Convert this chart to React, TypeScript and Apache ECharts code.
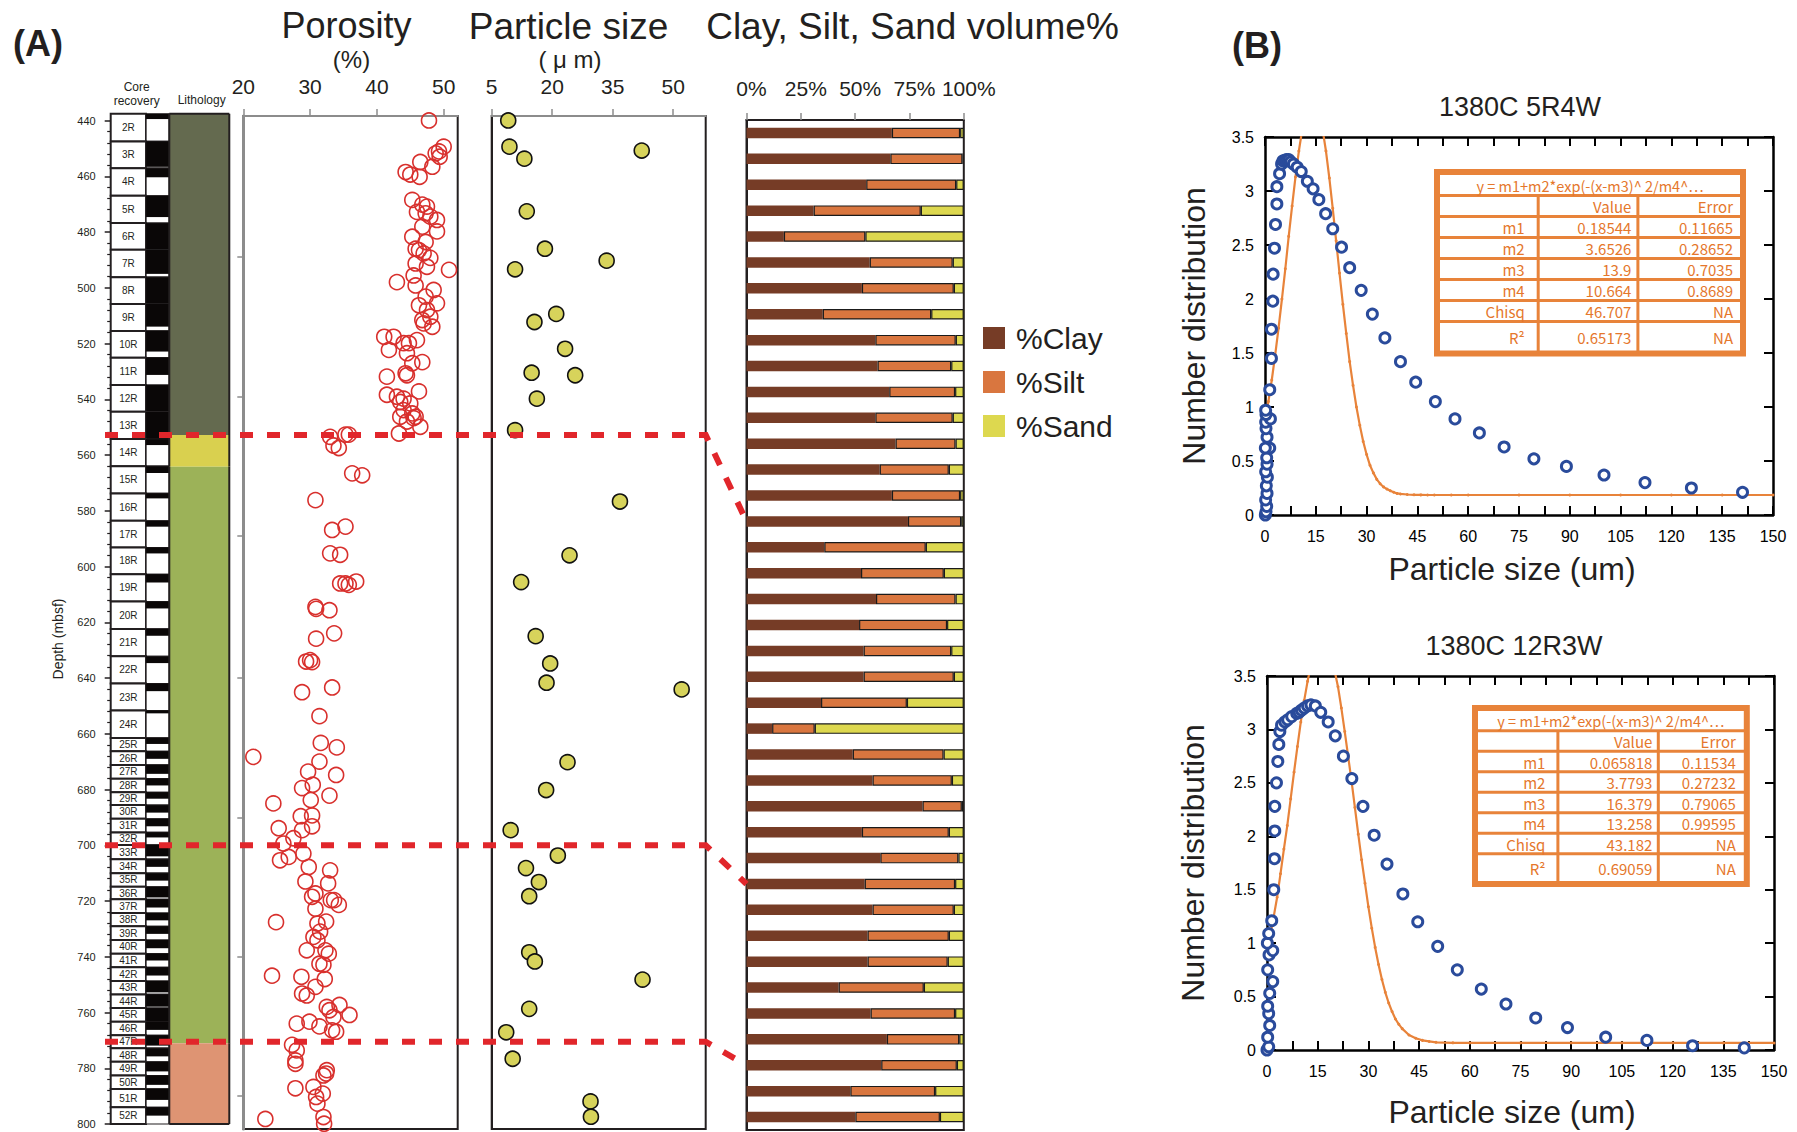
import React, { useEffect, useRef } from "react";
import * as echarts from "echarts";

const FONT = '"Liberation Sans", Arial, Helvetica, sans-serif';
const JPFONT = '"Noto Sans CJK JP", "Noto Sans", sans-serif';
const INK = "#231f20";
const RED = "#e1262b";
const ORANGE = "#e8833a";
const ORANGE_TXT = "#e5772c";
const BLUE = "#2a4b9b";

// ---------- Panel A: core column ----------
const coreNames = ["2R","3R","4R","5R","6R","7R","8R","9R","10R","11R","12R","13R","14R","15R","16R","17R","18R","19R","20R","21R","22R","23R","24R","25R","26R","27R","28R","29R","30R","31R","32R","33R","34R","35R","36R","37R","38R","39R","40R","41R","42R","43R","44R","45R","46R","47R","48R","49R","50R","51R","52R"];
const coreTops = [437.6,447.5,457.1,467.0,476.8,486.4,496.2,505.8,515.5,525.1,534.9,544.5,554.3,564.0,573.8,583.6,593.2,602.8,612.6,622.4,632.2,642.0,651.7,661.5,666.3,671.2,676.1,681.0,685.6,690.5,695.4,699.9,705.0,710.0,714.9,719.4,724.3,729.1,734.0,738.9,743.8,748.7,753.5,758.4,763.3,768.2,772.8,777.7,782.6,787.4,794.0];
const coreBase = 800;
const coreRecovery = [0.19,0.95,0.33,0.78,1.0,0.88,1.0,0.84,0.77,0.63,1.0,1.0,0.22,0.25,0.18,0.22,0.22,0.3,0.25,0.25,0.25,0.28,0.1,0.45,0.55,0.65,0.5,0.5,0.55,0.55,0.4,0.8,0.55,0.55,0.85,0.6,0.55,0.55,0.6,0.5,0.6,0.85,0.9,1.0,0.6,0.8,0.6,0.7,0.7,0.6,0.5];
const lithoTops = [437.6, 552.8, 564.2, 771.0];
const lithoBases = [552.8, 564.2, 771.0, 800];
const lithoColors = ["#646a4f", "#d9d04f", "#9cb258", "#de9473"];

// ---------- Panel A: porosity [% , depth mbsf] ----------
const porosityData = [
[47.8,440.0],[50.0,449.4],[49.3,451.1],[48.8,451.8],[49.4,453.0],[48.3,456.6],[46.5,454.9],[44.3,458.5],[45.0,459.4],[46.4,460.2],[45.3,468.5],[46.8,470.2],[47.5,470.9],[46.0,472.8],[47.3,473.3],[48.0,474.5],[49.0,475.7],[46.8,478.1],[45.3,481.7],[49.0,479.8],[47.3,483.6],[45.8,486.0],[46.3,486.5],[47.0,487.7],[48.0,489.3],[45.8,491.3],[47.5,492.5],[50.8,493.6],[45.5,495.6],[43.0,498.0],[45.8,499.2],[48.5,500.8],[47.3,503.2],[49.0,505.6],[46.3,506.3],[47.5,508.0],[48.0,510.4],[48.3,514.0],[47.0,512.8],[46.8,511.6],[41.1,517.6],[42.5,517.6],[41.8,522.3],[44.0,519.9],[44.8,519.9],[46.0,518.8],[44.5,523.5],[45.3,527.1],[46.8,526.7],[44.3,530.7],[44.5,531.4],[41.5,531.9],[41.5,538.4],[43.0,539.1],[44.0,539.8],[43.5,541.0],[45.0,541.5],[46.3,537.2],[44.0,543.9],[45.3,545.1],[45.8,546.3],[43.5,546.3],[44.5,548.0],[45.5,546.8],[46.5,549.9],[43.3,552.3],
[33.0,553.5],[33.5,556.6],[34.3,557.5],[35.3,552.7],[35.8,552.7],[36.3,566.6],[37.8,567.3],[30.8,576.2],[33.3,586.9],[35.3,585.7],[33.0,595.3],[34.5,595.8],[34.5,606.1],[35.3,606.1],[36.9,605.4],[35.8,606.6],[30.8,614.5],[30.9,615.2],[32.9,615.7],[30.9,625.9],[33.6,624.0],[29.4,634.1],[30.3,634.3],[30.0,633.6],[28.8,645.1],[33.3,643.4],[31.4,653.7],[31.6,663.3],[34.0,664.9],[21.5,668.3],[31.4,670.0],[29.7,673.6],[33.9,674.8],[28.8,679.5],[30.4,678.3],[32.9,682.2],[30.1,683.8],[24.5,685.0],[28.6,689.6],[30.3,689.3],[28.8,694.6],[30.3,693.2],[25.3,693.9],[27.5,697.5],[26.0,699.4],[26.8,704.2],[25.5,705.4],[29.0,703.0],[29.8,707.8],[33.0,709.0],[29.3,713.0],[32.7,713.7],[30.8,717.3],[30.3,718.5],[33.1,719.7],[34.3,721.4],[33.6,719.7],[24.9,727.6],[30.8,722.8],[31.1,728.1],[32.4,727.4],[31.5,731.0],[30.5,732.9],[31.1,734.1],[32.3,737.7],[32.8,738.9],[29.5,737.7],[31.4,742.5],[32.0,742.9],[24.3,746.8],[28.7,747.2],[32.2,748.0],[30.8,750.8],[28.8,753.2],[29.5,753.9],[34.4,757.3],[32.5,758.0],[32.9,759.2],[33.5,761.6],[35.9,760.9],[29.9,763.3],[28.0,764.0],[31.4,765.0],[33.3,766.4],[33.9,766.9],[27.3,771.6],[28.0,773.6],[27.8,777.2],[27.8,778.4],[32.5,780.7],[32.4,781.9],[32.0,782.6],[27.8,787.2],[30.5,786.7],[30.9,790.3],[31.1,792.7],[31.9,789.1],[23.3,798.2],[32.0,797.5],[32.1,799.9]
];

// ---------- Panel A: particle size [um, depth mbsf] ----------
const particleData = [
[9.1,440.0],[9.4,449.4],[13.1,453.7],[42.2,450.8],[13.7,472.6],[18.2,486.0],[33.5,490.3],[10.8,493.4],[21.0,509.4],[15.6,512.3],[23.2,521.9],[14.9,530.5],[25.7,531.4],[16.2,539.8],[10.8,551.1],[36.8,576.7],[24.3,596.0],[12.3,605.6],[15.9,625.0],[19.5,634.8],[18.6,641.7],[52.1,644.1],[23.8,670.2],[18.5,680.2],[9.7,694.6],[21.4,703.7],[13.5,708.2],[16.7,713.2],[14.3,718.3],[14.3,738.4],[15.7,741.7],[42.4,748.2],[14.3,758.7],[8.6,767.1],[10.2,776.6],[29.5,791.9],[29.6,797.4]
];

// ---------- Panel A: volume % ----------
const clayPct = [66.9,66.2,55.1,30.9,17.2,56.7,53.1,35.1,59.3,60.3,65.7,59.3,68.6,61.3,66.9,74.3,35.8,52.7,59.6,51.8,53.9,53.9,34.3,11.8,48.9,58.0,81.0,53.1,61.6,54.4,58.0,55.7,55.7,42.4,57.1,64.6,62.0,47.8,50.1];
const siltPct = [31.4,33.2,41.4,49.3,37.5,38.2,42.3,49.9,37.0,33.9,30.3,35.6,27.6,31.8,31.4,24.5,46.7,38.1,36.6,40.5,40.3,41.5,39.5,19.6,41.8,36.5,18.1,40.0,35.9,41.6,37.4,37.4,36.9,39.2,38.9,33.3,34.8,39.0,38.9];
const sandPct = [1.7,0.6,3.5,19.8,45.3,5.1,4.6,15.0,3.7,5.8,4.0,5.1,3.8,6.9,1.7,1.2,17.5,9.2,3.8,7.7,5.8,4.6,26.2,68.6,9.3,5.5,0.9,6.9,2.5,4.0,4.6,6.9,7.4,18.4,4.0,2.1,3.2,13.2,11.0];

const porosityTicks = [20, 30, 40, 50];
const particleTicks = [5, 20, 35, 50];
const volumeTicks = [0, 25, 50, 75, 100];
const porosityDepthTicks = [489, 539, 589, 640, 690, 740, 790];

// unit boundaries: depth -> sample bar index
const unitBreakDepths = [552.8, 700, 770.5];
const unitBreakSamples = [15, 29, 36];

// ---------- Panel B ----------
const blue5R4W = [
[0.1,0.0],[0.3,0.03],[0.5,0.08],[0.2,0.14],[0.6,0.2],[0.4,0.27],[0.7,0.35],[0.2,0.4],[0.6,0.47],[0.5,0.53],[1.4,0.62],[0.1,0.62],[0.6,0.72],[0.3,0.8],[0.2,0.86],[1.6,0.89],[0.3,0.93],[0.2,0.97],
[1.4,1.16],[1.9,1.45],[1.9,1.72],[2.3,1.98],[2.4,2.23],[2.8,2.47],[3.1,2.69],[3.5,2.88],[3.5,3.04],[4.3,3.16],[4.9,3.25],[5.3,3.28],[5.7,3.28],[6.3,3.29],[7.0,3.29],[7.6,3.27],[8.4,3.25],[9.5,3.22],[10.7,3.18],[12.5,3.09],[14.2,3.02],[15.9,2.92],[17.9,2.79],[20.0,2.65],[22.6,2.48],[25.0,2.29],[28.4,2.08],[31.7,1.86],[35.4,1.64],[40.0,1.42],[44.5,1.23],[50.3,1.05],[56.1,0.89],[63.3,0.76],[70.6,0.63],[79.4,0.52],[89.0,0.45],[100.1,0.37],[112.2,0.30],[125.9,0.25],[141.0,0.21]
];
const blue12R3W = [
[0.0,0.0],[0.5,0.03],[0.2,0.12],[0.8,0.23],[0.5,0.34],[0.2,0.41],[0.8,0.53],[1.7,0.64],[0.2,0.75],[0.6,0.89],[1.7,0.93],[0.1,1.0],[0.5,1.09],
[1.4,1.21],[2.0,1.50],[2.2,1.79],[2.3,2.05],[2.3,2.28],[2.8,2.50],[3.2,2.70],[3.5,2.86],[3.8,2.98],[4.3,3.04],[5.3,3.07],[6.1,3.09],[7.3,3.12],[8.8,3.15],[9.5,3.16],[10.2,3.18],[11.0,3.2],[12.0,3.22],[13.0,3.23],[14.3,3.22],[15.9,3.16],[18.1,3.07],[20.2,2.94],[22.6,2.75],[25.1,2.54],[28.4,2.28],[31.7,2.01],[35.5,1.74],[40.2,1.46],[44.6,1.20],[50.5,0.97],[56.3,0.75],[63.4,0.57],[70.7,0.43],[79.5,0.30],[88.9,0.21],[100.2,0.12],[112.4,0.09],[125.9,0.04],[141.2,0.02]
];
const fitX = [0,1,2,3,4,5,6,7,8,9,10,11,12,13,14,15,16,17,18,19,20,21,22,23,24,25,26,27,28,29,30,31,32,33,34,35,36,37,38,39,40,42,44,46,48,50,55,60,75,90,105,120,135,150];
const fit5R4W = [0.88,1.05,1.25,1.48,1.73,2.0,2.28,2.58,2.86,3.13,3.37,3.57,3.72,3.81,3.84,3.81,3.72,3.57,3.37,3.12,2.84,2.54,2.24,1.95,1.68,1.42,1.2,1.0,0.83,0.68,0.56,0.46,0.39,0.33,0.29,0.26,0.24,0.225,0.21,0.2,0.195,0.19,0.187,0.186,0.185,0.185,0.185,0.185,0.185,0.185,0.185,0.185,0.185,0.185];
const fit12R3W = [0.9,1.08,1.25,1.43,1.65,1.88,2.1,2.35,2.6,2.84,3.07,3.27,3.45,3.6,3.73,3.8,3.84,3.83,3.78,3.68,3.55,3.4,3.2,2.98,2.75,2.52,2.27,2.02,1.78,1.56,1.34,1.14,0.96,0.8,0.66,0.54,0.44,0.36,0.29,0.24,0.2,0.14,0.11,0.09,0.08,0.072,0.067,0.066,0.066,0.066,0.066,0.066,0.066,0.066];

const fitTitle = "y = m1+m2*exp(-(x-m3)^ 2/m4^…";
const fitHeader = ["", "Value", "Error"];
const fitRows5R4W = [["m1","0.18544","0.11665"],["m2","3.6526","0.28652"],["m3","13.9","0.7035"],["m4","10.664","0.8689"],["Chisq","46.707","NA"],["R²","0.65173","NA"]];
const fitRows12R3W = [["m1","0.065818","0.11534"],["m2","3.7793","0.27232"],["m3","16.379","0.79065"],["m4","13.258","0.99595"],["Chisq","43.182","NA"],["R²","0.69059","NA"]];

// ---------- helpers ----------
function label(id: string, x: number, y: number, text: string, size: number, opt: any = {}) {
  const align = opt.align || "center";
  return {
    id, type: "text", x, y, rotation: opt.rotation || 0, z: 50, silent: true,
    style: {
      text, fill: opt.color || INK, fontSize: size, fontFamily: opt.family || FONT,
      fontWeight: opt.weight || "normal",
      align, textAlign: align, verticalAlign: "middle", textVerticalAlign: "middle",
    },
  };
}

function fitTable(prefix: string, x: number, y: number, colW: number[], titleH: number, rowH: number, lastH: number, pads: number[], rows: string[][]) {
  const B = 6, G = 3;
  const innerW = colW.reduce((a, b) => a + b, 0) + G * (colW.length - 1);
  const all = [fitHeader, ...rows];
  const totalH = B + titleH + G + (all.length - 1) * (rowH + G) + lastH + B;
  const els: any[] = [];
  els.push({ id: prefix + "bg", type: "rect", z: 40, silent: true, shape: { x, y, width: innerW + 2 * B, height: totalH }, style: { fill: ORANGE } });
  els.push({ id: prefix + "tt", type: "rect", z: 41, silent: true, shape: { x: x + B, y: y + B, width: innerW, height: titleH }, style: { fill: "#fff" } });
  els.push(label(prefix + "ttx", x + B + innerW / 2, y + B + titleH / 2 + 0.5, fitTitle, 14.5, { color: ORANGE_TXT, family: JPFONT }));
  let cy = y + B + titleH + G;
  all.forEach((row, r) => {
    const h = r === all.length - 1 ? lastH : rowH;
    let cx = x + B;
    row.forEach((cell, c) => {
      els.push({ id: `${prefix}c${r}_${c}`, type: "rect", z: 41, silent: true, shape: { x: cx, y: cy, width: colW[c], height: h }, style: { fill: "#fff" } });
      if (cell) els.push(label(`${prefix}t${r}_${c}`, cx + colW[c] - pads[c], cy + h / 2 + 0.5, cell, 15, { color: ORANGE_TXT, family: JPFONT, align: "right" }));
      cx += colW[c] + G;
    });
    cy += h + G;
  });
  return els;
}

function buildOption() {
  const coreData = coreTops.map((t, i) => [t, i < coreTops.length - 1 ? coreTops[i + 1] : coreBase, coreRecovery[i], i]);
  const lithoData = lithoTops.map((t, i) => [t, lithoBases[i], 0.5, i]);
  const samples = clayPct.map((_, i) => `S${i + 1}`);

  const renderCore = (params: any, api: any) => {
    const top = api.value(0), bot = api.value(1), rec = api.value(2), idx = api.value(3);
    const a = api.coord([0, top]);
    const b = api.coord([0.298, bot]);
    const c = api.coord([0.494, bot]);
    const y0 = a[1], h = b[1] - a[1];
    const xl = a[0], xm = b[0], xr = c[0];
    return {
      type: "group",
      children: [
        { type: "rect", shape: { x: xl, y: y0, width: xm - xl, height: h }, style: { fill: "#fff", stroke: INK, lineWidth: 2 } },
        { type: "rect", shape: { x: xm, y: y0, width: xr - xm, height: h }, style: { fill: "#fff", stroke: INK, lineWidth: 1.2 } },
        { type: "rect", shape: { x: xm, y: y0, width: xr - xm, height: h * rec }, style: { fill: "#0a0707" } },
        { type: "text", x: (xl + xm) / 2, y: y0 + h / 2, style: { text: coreNames[idx], fontSize: 10, fontFamily: FONT, fill: INK, align: "center", verticalAlign: "middle", textAlign: "center", textVerticalAlign: "middle" } },
      ],
    };
  };

  const renderLitho = (params: any, api: any) => {
    const top = api.value(0), bot = api.value(1), idx = api.value(3);
    const a = api.coord([0.494, top]);
    const b = api.coord([1, bot]);
    const ln = (x1: number, y1: number, x2: number, y2: number) => ({ type: "line", shape: { x1, y1, x2, y2 }, style: { stroke: INK, lineWidth: 2 } });
    const children: any[] = [
      { type: "rect", shape: { x: a[0], y: a[1], width: b[0] - a[0], height: b[1] - a[1] }, style: { fill: lithoColors[idx] } },
      ln(a[0], a[1], a[0], b[1]),
      ln(b[0], a[1], b[0], b[1]),
    ];
    if (idx === 0) children.push(ln(a[0], a[1], b[0], a[1]));
    if (idx === lithoTops.length - 1) children.push(ln(a[0], b[1], b[0], b[1]));
    return { type: "group", children };
  };

  const noSplit = { show: false };
  const grayLine = { show: true, onZero: false, lineStyle: { color: "#8c8c8c", width: 2 } };
  const blackLine = { show: true, onZero: false, lineStyle: { color: INK, width: 2 } };
  const bAxisLine = { show: true, onZero: false, lineStyle: { color: "#000", width: 2.5 } };
  const bTick = { show: true, inside: true, length: 9, lineStyle: { color: "#000", width: 2 } };
  const bX = (grid: number, pos: string, labels: boolean) => ({
    gridIndex: grid, type: "value", position: pos, min: 0, max: 150, interval: 15,
    axisLine: bAxisLine, axisTick: bTick,
    minorTick: { show: true, splitNumber: 2, length: 9, lineStyle: { color: "#000", width: 2 } },
    axisLabel: { show: labels, fontSize: 16, color: "#000", fontFamily: FONT, margin: 13 },
    splitLine: noSplit, minorSplitLine: noSplit,
  });
  const bY = (grid: number, pos: string, labels: boolean) => ({
    gridIndex: grid, type: "value", position: pos, min: 0, max: 3.5, interval: 0.5,
    axisLine: bAxisLine, axisTick: bTick,
    axisLabel: { show: labels, fontSize: 16, color: "#000", fontFamily: FONT, margin: 11 },
    splitLine: noSplit,
  });

  const graphics: any[] = [
    label("gA", 13, 43, "(A)", 36, { align: "left", weight: "bold" }),
    label("gB", 1232, 45, "(B)", 36, { align: "left", weight: "bold" }),
    label("tPor", 346.5, 25, "Porosity", 36),
    label("tPorU", 351.5, 59, "(%)", 24),
    label("tPs", 568.5, 26, "Particle size", 37),
    label("tPsU", 570, 59, "( μ m)", 24),
    label("tVol", 912.5, 26, "Clay, Silt, Sand volume%", 37),
    label("tCore1", 136.7, 87, "Core", 12),
    label("tCore2", 136.7, 101, "recovery", 12),
    label("tLith", 201.7, 100, "Lithology", 12),
    label("tDepth", 58, 639, "Depth (mbsf)", 14, { rotation: Math.PI / 2 }),
    label("tB1", 1520, 107, "1380C 5R4W", 27),
    label("tB2", 1514, 646, "1380C 12R3W", 27),
    label("tY1", 1194, 326, "Number distribution", 32, { rotation: Math.PI / 2 }),
    label("tY2", 1193, 863, "Number distribution", 32, { rotation: Math.PI / 2 }),
    label("tX1", 1512, 569, "Particle size (um)", 32),
    label("tX2", 1512, 1112, "Particle size (um)", 32),
    ...fitTable("f1", 1434, 169, [96.7, 96.7, 100.6], 19, 18, 27.4, [12, 5, 7], fitRows5R4W),
    ...fitTable("f2", 1472, 705, [78.4, 97.4, 84], 18.3, 17.5, 25.6, [11, 4.5, 8], fitRows12R3W),
  ];

  return {
    animation: false,
    backgroundColor: "#fff",
    textStyle: { fontFamily: FONT },
    legend: {
      data: ["%Clay", "%Silt", "%Sand"], orient: "vertical", left: 983, top: 323, padding: 0,
      itemWidth: 22, itemHeight: 22, itemGap: 14, icon: "rect", selectedMode: false,
      itemStyle: { borderWidth: 0 },
      textStyle: { fontSize: 30, color: INK, fontFamily: FONT, lineHeight: 22, padding: [0, 0, 0, 6] },
    },
    grid: [
      { left: 110.7, top: 120.5, width: 118.6, height: 1003.5, show: false },
      { left: 243.3, top: 116, width: 214.4, height: 1013, show: true, borderColor: INK, borderWidth: 2, backgroundColor: "transparent" },
      { left: 491.7, top: 116, width: 214, height: 1013, show: true, borderColor: INK, borderWidth: 2, backgroundColor: "transparent" },
      { left: 746.5, top: 120, width: 217.3, height: 1010, show: true, borderColor: INK, borderWidth: 2, backgroundColor: "transparent" },
      { left: 1265, top: 137, width: 508, height: 378, show: false },
      { left: 1267, top: 676, width: 507, height: 374, show: false },
    ],
    xAxis: [
      { gridIndex: 0, type: "value", min: 0, max: 1, show: false, splitLine: noSplit },
      {
        gridIndex: 1, type: "value", position: "top", min: 20, max: 52.1,
        axisLine: grayLine,
        axisTick: { show: true, length: 7, lineStyle: { color: "#8c8c8c", width: 1.5 }, customValues: porosityTicks },
        axisLabel: { customValues: porosityTicks, fontSize: 21, color: INK, fontFamily: FONT, margin: 19 },
        splitLine: noSplit,
      },
      {
        gridIndex: 2, type: "value", position: "top", min: 5, max: 58.06,
        axisLine: grayLine,
        axisTick: { show: true, length: 7, lineStyle: { color: "#8c8c8c", width: 1.5 }, customValues: particleTicks },
        axisLabel: { customValues: particleTicks, fontSize: 21, color: INK, fontFamily: FONT, margin: 19 },
        splitLine: noSplit,
      },
      {
        gridIndex: 3, type: "value", position: "top", min: 0, max: 100,
        axisLine: blackLine,
        axisTick: { show: true, length: 7, lineStyle: { color: "#8c8c8c", width: 1.5 }, customValues: volumeTicks },
        axisLabel: { customValues: volumeTicks, formatter: "{value}%", fontSize: 21, color: INK, fontFamily: FONT, margin: 21, padding: [0, 0, 0, 10] },
        splitLine: noSplit,
      },
      bX(4, "bottom", true), bX(4, "top", false),
      bX(5, "bottom", true), bX(5, "top", false),
    ],
    yAxis: [
      {
        gridIndex: 0, type: "value", inverse: true, min: 440, max: 800, interval: 20,
        axisLine: blackLine,
        axisTick: { show: true, inside: false, length: 6, lineStyle: { color: INK, width: 1.5 } },
        minorTick: { show: true, splitNumber: 5, length: 3.5, lineStyle: { color: INK, width: 1.2 } },
        axisLabel: { fontSize: 11, color: INK, fontFamily: FONT, margin: 15 },
        splitLine: noSplit, minorSplitLine: noSplit,
      },
      {
        gridIndex: 1, type: "value", inverse: true, min: 438.4, max: 801.8,
        axisLine: { show: true, onZero: false, lineStyle: { color: "#8c8c8c", width: 3 } },
        axisTick: { show: true, length: 6, lineStyle: { color: "#8c8c8c", width: 1.5 }, customValues: porosityDepthTicks },
        axisLabel: { show: false },
        splitLine: noSplit,
      },
      {
        gridIndex: 2, type: "value", inverse: true, min: 438.4, max: 801.8,
        axisLine: blackLine, axisTick: { show: false }, axisLabel: { show: false }, splitLine: noSplit,
      },
      {
        gridIndex: 3, type: "category", inverse: true, data: samples,
        axisLine: blackLine, axisTick: { show: false }, axisLabel: { show: false },
      },
      bY(4, "left", true), bY(4, "right", false),
      bY(5, "left", true), bY(5, "right", false),
    ],
    graphic: { elements: graphics },
    series: [
      { type: "custom", name: "cores", xAxisIndex: 0, yAxisIndex: 0, clip: false, silent: true, renderItem: renderCore, encode: { x: 2, y: [0, 1] }, data: coreData, z: 3 },
      { type: "custom", name: "lithology", xAxisIndex: 0, yAxisIndex: 0, clip: false, silent: true, renderItem: renderLitho, encode: { x: 2, y: [0, 1] }, data: lithoData, z: 3 },
      {
        type: "scatter", name: "Porosity", xAxisIndex: 1, yAxisIndex: 1, symbol: "circle", symbolSize: 15, silent: true,
        itemStyle: { color: "rgba(255,255,255,0)", borderColor: "#d8302d", borderWidth: 1.6, opacity: 1 }, data: porosityData, z: 5,
      },
      {
        type: "scatter", name: "Particle size", xAxisIndex: 2, yAxisIndex: 2, symbol: "circle", symbolSize: 15, silent: true,
        itemStyle: { color: "#d7d35b", borderColor: "#111", borderWidth: 1.6, opacity: 1 }, data: particleData, z: 5,
      },
      { type: "bar", name: "%Clay", stack: "v", xAxisIndex: 3, yAxisIndex: 3, barWidth: 10.5, silent: true, itemStyle: { color: "#763c26" }, data: clayPct },
      { type: "bar", name: "%Silt", stack: "v", xAxisIndex: 3, yAxisIndex: 3, barWidth: 10.5, silent: true, itemStyle: { color: "#d9763f", borderColor: "#1a1a1a", borderWidth: 1.2 }, data: siltPct },
      { type: "bar", name: "%Sand", stack: "v", xAxisIndex: 3, yAxisIndex: 3, barWidth: 10.5, silent: true, itemStyle: { color: "#ddd84f", borderColor: "#1a1a1a", borderWidth: 1.2 }, data: sandPct },
      {
        type: "line", name: "fit 5R4W", xAxisIndex: 4, yAxisIndex: 4, data: fitX.map((x, i) => [x, fit5R4W[i]]),
        symbol: "circle", symbolSize: 3, showSymbol: true, clip: true, silent: true,
        lineStyle: { color: ORANGE, width: 2.2 }, itemStyle: { color: ORANGE }, z: 3,
      },
      {
        type: "scatter", name: "5R4W", xAxisIndex: 4, yAxisIndex: 4, data: blue5R4W, symbol: "circle", symbolSize: 10, silent: true,
        itemStyle: { color: "#fff", borderColor: BLUE, borderWidth: 3, opacity: 1 }, z: 4,
      },
      {
        type: "line", name: "fit 12R3W", xAxisIndex: 6, yAxisIndex: 6, data: fitX.map((x, i) => [x, fit12R3W[i]]),
        symbol: "circle", symbolSize: 3, showSymbol: true, clip: true, silent: true,
        lineStyle: { color: ORANGE, width: 2.2 }, itemStyle: { color: ORANGE }, z: 3,
      },
      {
        type: "scatter", name: "12R3W", xAxisIndex: 6, yAxisIndex: 6, data: blue12R3W, symbol: "circle", symbolSize: 10, silent: true,
        itemStyle: { color: "#fff", borderColor: BLUE, borderWidth: 3, opacity: 1 }, z: 4,
      },
    ],
  };
}

export default function App() {
  const ref = useRef<HTMLDivElement>(null);
  useEffect(() => {
    const chart = echarts.init(ref.current as HTMLDivElement, null, { renderer: "svg" });
    const option: any = buildOption();
    chart.setOption(option);
    // dashed unit-boundary connectors, positioned through the axes' own scales
    const xStart = 105;
    const xTurn = chart.convertToPixel({ xAxisIndex: 2 }, 58.06) as number;
    const xEnd = chart.convertToPixel({ xAxisIndex: 3 }, 0) as number;
    const dashed = unitBreakDepths.map((d, i) => {
      const yd = chart.convertToPixel({ yAxisIndex: 0 }, d) as number;
      const yb = chart.convertToPixel({ yAxisIndex: 3 }, unitBreakSamples[i]) as number;
      return {
        id: "dash" + i, type: "polyline", z: 100, silent: true,
        shape: { points: [[xStart, yd], [xTurn, yd], [xEnd, yb]] },
        style: { stroke: RED, lineWidth: 6, lineDash: [13, 14], fill: "none" },
      };
    });
    option.graphic.elements = [...option.graphic.elements, ...dashed];
    chart.setOption(option, true);
    return () => chart.dispose();
  }, []);
  return <div ref={ref} style={{ position: "fixed", left: 0, top: 0, width: 1797, height: 1132, background: "#fff" }} />;
}
